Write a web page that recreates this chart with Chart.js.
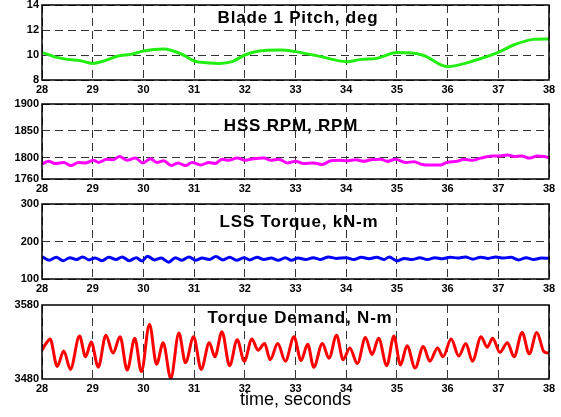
<!DOCTYPE html>
<html>
<head>
<meta charset="utf-8">
<script src="https://cdn.jsdelivr.net/npm/chart.js@4"></script>
<style>
  html, body { margin: 0; padding: 0; background: #fff; overflow: hidden; }
  #wrap { position: relative; width: 561px; height: 417px; }
  canvas { position: absolute; left: 0; }
</style>
</head>
<body>
<div id="wrap">
  <canvas id="c1" width="561" height="103" style="top:-5px"></canvas>
  <canvas id="c2" width="561" height="103" style="top:94px"></canvas>
  <canvas id="c3" width="561" height="103" style="top:194px"></canvas>
  <canvas id="c4" width="561" height="116" style="top:295px"></canvas>
</div>
<script>
// time axis
const xTicks = [28, 29, 30, 31, 32, 33, 34, 35, 36, 37, 38];

// Blade 1 pitch, deg
const pitchT = [28, 28.25, 28.5, 28.75, 29, 29.2, 29.5, 29.75, 30, 30.4, 30.75, 31, 31.25, 31.5, 31.75, 32, 32.25, 32.7, 33, 33.5, 34, 34.3, 34.6, 35, 35.5, 36, 36.5, 37, 37.3, 37.7, 38];
const pitchV = [10.21, 9.85, 9.65, 9.55, 9.33, 9.5, 9.92, 10.05, 10.32, 10.48, 10.08, 9.52, 9.38, 9.33, 9.47, 10.0, 10.3, 10.4, 10.27, 9.87, 9.47, 9.65, 9.73, 10.19, 10.0, 9.07, 9.52, 10.21, 10.8, 11.25, 11.28];
const pitchTicks = [8, 10, 12, 14];

// HSS RPM
const rpmT = [28.00, 28.13, 28.26, 28.43, 28.57, 28.72, 28.86, 29.01, 29.12, 29.28, 29.40, 29.53, 29.68, 29.84, 29.99, 30.14, 30.27, 30.40, 30.55, 30.68, 30.83, 30.96, 31.13, 31.29, 31.42, 31.55, 31.68, 31.85, 32.01, 32.18, 32.38, 32.51, 32.67,
  32.84, 33.00, 33.16, 33.36, 33.53, 33.69, 33.86, 34.02, 34.18, 34.35, 34.48, 34.68, 34.81, 34.97, 35.17, 35.34, 35.50, 35.66, 35.86, 35.99, 36.19, 36.32, 36.49, 36.65, 36.88, 37.01, 37.18, 37.31, 37.47, 37.61, 37.77, 37.90, 38.00];
const rpmV = [1788, 1793, 1789, 1791, 1785, 1791, 1790, 1795, 1791, 1797, 1796, 1802, 1795, 1799, 1790, 1798, 1791, 1794, 1785, 1790, 1785, 1791, 1786, 1791, 1789, 1797, 1795, 1799, 1795, 1798, 1799, 1795, 1797,
  1790, 1793, 1789, 1790, 1787, 1794, 1795, 1794, 1796, 1793, 1796, 1797, 1793, 1797, 1791, 1792, 1787, 1786, 1786, 1791, 1793, 1797, 1795, 1799, 1803, 1803, 1805, 1802, 1803, 1799, 1803, 1802, 1800];
const rpmTicks = [1760, 1800, 1850, 1900];

// LSS torque, kN-m
const lssT = [28.00, 28.14, 28.28, 28.42, 28.55, 28.68, 28.80, 28.93, 29.05, 29.18, 29.32, 29.46, 29.58, 29.72, 29.86, 29.97, 30.08, 30.22, 30.35, 30.50, 30.63, 30.76, 30.90, 31.03, 31.16, 31.30, 31.43, 31.57, 31.70, 31.84, 31.98, 32.10, 32.24, 32.38, 32.52, 32.66, 32.80, 32.92,
  33.05, 33.20, 33.35, 33.50, 33.65, 33.80, 34.00, 34.15, 34.30, 34.45, 34.60, 34.75, 34.85, 35.00, 35.15, 35.30, 35.45, 35.60, 35.75, 35.90, 36.05, 36.20, 36.35, 36.50, 36.65, 36.80, 36.95, 37.10, 37.25, 37.40, 37.55, 37.70, 37.85, 38.00];
const lssV = [160, 150, 158, 149, 157, 152, 159, 151, 156, 149, 158, 152, 159, 149, 157, 148, 161, 151, 156, 145, 157, 150, 159, 150, 156, 152, 160, 151, 158, 150, 157, 151, 158, 152, 156, 150, 157, 150,
  156, 152, 157, 152, 159, 155, 157, 152, 158, 154, 158, 152, 159, 148, 155, 152, 157, 152, 157, 154, 158, 156, 159, 153, 158, 155, 159, 156, 158, 151, 157, 152, 156, 155];
const lssTicks = [100, 200, 300];

// Torque demand, N-m
const tdT = [28.00, 28.10, 28.16, 28.30, 28.43, 28.56, 28.74, 28.86, 28.97, 29.11, 29.26, 29.40, 29.54, 29.68, 29.83, 29.96, 30.12, 30.26, 30.39, 30.54, 30.70, 30.83, 30.99, 31.14, 31.30, 31.41, 31.55, 31.70, 31.85, 31.99, 32.14, 32.26, 32.39, 32.50, 32.65, 32.80, 32.97,
  33.11, 33.24, 33.36, 33.53, 33.66, 33.81, 33.94, 34.07, 34.22, 34.38, 34.51, 34.64, 34.80, 34.94, 35.07, 35.20, 35.36, 35.52, 35.65, 35.80, 35.91, 36.07, 36.22, 36.36, 36.49, 36.66, 36.78, 36.89, 37.03, 37.18, 37.31, 37.47, 37.61, 37.76, 37.90, 38.00];
const tdV = [3519, 3530, 3534, 3497, 3518, 3493, 3538, 3510, 3530, 3496, 3539, 3515, 3537, 3492, 3535, 3490, 3554, 3500, 3529, 3481, 3542, 3502, 3537, 3493, 3529, 3510, 3544, 3498, 3533, 3504, 3534, 3519, 3528, 3506, 3528, 3504, 3537,
  3505, 3527, 3496, 3528, 3508, 3539, 3506, 3522, 3501, 3536, 3513, 3535, 3498, 3538, 3499, 3525, 3495, 3524, 3504, 3522, 3510, 3534, 3511, 3528, 3504, 3537, 3523, 3535, 3516, 3529, 3510, 3543, 3514, 3543, 3517, 3515];
const tdTicks = [3480, 3580];

const pts = (t, v) => t.map((x, i) => ({ x: x, y: v[i] }));

// draws the title inside the plot and the black box around it
const panelDeco = {
  id: 'panelDeco',
  afterDatasetsDraw(chart, args, opts) {
    const a = chart.chartArea, ctx = chart.ctx;
    ctx.save();
    ctx.fillStyle = '#000';
    ctx.font = 'bold 17px "Liberation Sans", Arial, sans-serif';
    ctx.letterSpacing = '0.8px';
    ctx.textAlign = 'center';
    ctx.textBaseline = 'alphabetic';
    ctx.fillText(opts.text, opts.x, a.top + opts.dy);
    ctx.letterSpacing = '0px';
    ctx.strokeStyle = '#000';
    ctx.lineWidth = 1.5;
    ctx.strokeRect(a.left, a.top, a.right - a.left, a.bottom - a.top);
    ctx.restore();
  }
};

const tickFont = { family: '"Liberation Sans", Arial, sans-serif', size: 11, weight: 'bold' };

function makePanel(id, t, v, color, yTicks, title, tx, tdy, hGrid, last) {
  return new Chart(document.getElementById(id), {
    type: 'line',
    data: {
      datasets: [{
        data: pts(t, v),
        borderColor: color,
        borderWidth: 3,
        pointRadius: 0,
        fill: false,
        cubicInterpolationMode: 'monotone'
      }]
    },
    options: {
      responsive: false,
      animation: false,
      events: [],
      layout: { padding: { top: 10, right: 12, left: 0, bottom: 0 } },
      plugins: {
        legend: { display: false },
        tooltip: { enabled: false },
        panelDeco: { text: title, x: tx, dy: tdy }
      },
      scales: {
        x: {
          type: 'linear',
          min: xTicks[0],
          max: xTicks[xTicks.length - 1],
          afterBuildTicks: s => { s.ticks = xTicks.map(x => ({ value: x })); },
          afterFit: s => { s.height = last ? 32 : 18; },
          ticks: { font: tickFont, color: '#000', padding: 3, maxRotation: 0, callback: val => String(val) },
          grid: { color: '#333', lineWidth: 1, drawTicks: false },
          border: { display: false, dash: [8, 5] },
          title: {
            display: last,
            text: 'time, seconds',
            color: '#000',
            font: { family: '"Liberation Sans", Arial, sans-serif', size: 18 },
            padding: { top: 0, bottom: 0 }
          }
        },
        y: {
          min: yTicks[0],
          max: yTicks[yTicks.length - 1],
          afterBuildTicks: s => { s.ticks = yTicks.map(y => ({ value: y })); },
          afterFit: s => { s.width = 42; },
          ticks: { font: tickFont, color: '#000', padding: 3, callback: val => String(val) },
          grid: { display: hGrid, color: '#333', lineWidth: 1, drawTicks: false },
          border: { display: false, dash: [8, 5] }
        }
      }
    },
    plugins: [panelDeco]
  });
}

makePanel('c1', pitchT, pitchV, '#22ee11', pitchTicks, 'Blade 1 Pitch, deg', 298, 18, true, false);
makePanel('c2', rpmT, rpmV, '#ff00ff', rpmTicks, 'HSS RPM, RPM', 291, 27, true, false);
makePanel('c3', lssT, lssV, '#0000ff', lssTicks, 'LSS Torque, kN-m', 299, 23, true, false);
makePanel('c4', tdT, tdV, '#ff0000', tdTicks, 'Torque Demand, N-m', 300, 18, false, true);
</script>
</body>
</html>
